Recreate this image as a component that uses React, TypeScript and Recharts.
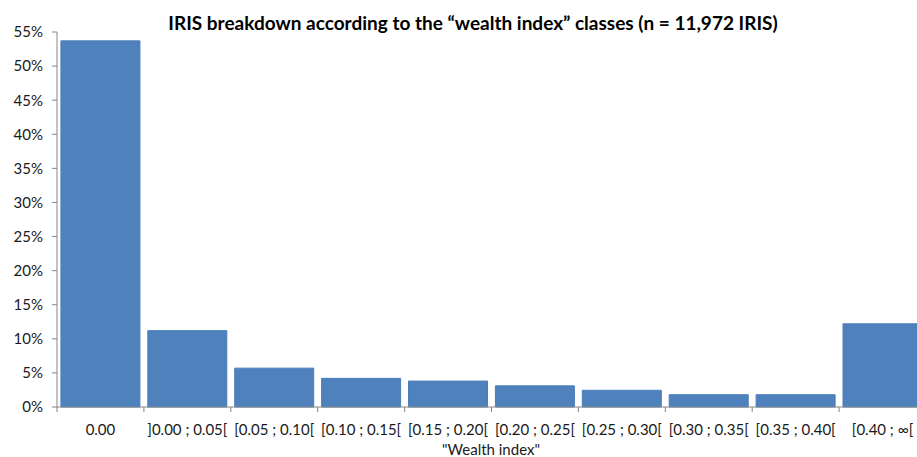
import { BarChart, Bar, XAxis, YAxis } from "recharts";

const categories = [
  "0.00",
  "]0.00 ; 0.05[",
  "[0.05 ; 0.10[",
  "[0.10 ; 0.15[",
  "[0.15 ; 0.20[",
  "[0.20 ; 0.25[",
  "[0.25 ; 0.30[",
  "[0.30 ; 0.35[",
  "[0.35 ; 0.40[",
  "[0.40 ; ∞[",
];
const shares = [53.7, 11.2, 5.7, 4.2, 3.8, 3.1, 2.45, 1.8, 1.8, 12.2];
const yTicks = [0, 5, 10, 15, 20, 25, 30, 35, 40, 45, 50, 55];

const title = "IRIS breakdown according to the \u201cwealth index\u201d classes (n = 11,972 IRIS)";
const xTitle = "\"Wealth index\"";

const chartWidth = 940;
const chartHeight = 457;
const margin = { top: 32, right: 14, left: 0, bottom: 20 };
const yAxisWidth = 57;
const plotWidth = chartWidth - margin.left - margin.right - yAxisWidth;
const halfBand = plotWidth / categories.length / 2;
const plotBottom = chartHeight - margin.bottom - 30;

const axisColor = "#868686";
const textColor = "#1a1a1a";
const font = "Lato, 'Open Sans', sans-serif";

const data = categories.map((c, i) => ({ name: c, value: shares[i] }));

function CategoryTick(props: any) {
  const { x, payload } = props;
  return (
    <g>
      <line
        x1={x - halfBand}
        x2={x - halfBand}
        y1={plotBottom}
        y2={plotBottom + 5}
        stroke={axisColor}
      />
      <text
        x={x}
        y={plotBottom + 28}
        textAnchor="middle"
        fill={textColor}
        fontSize={15}
        fontFamily={font}
      >
        {payload.value}
      </text>
    </g>
  );
}

export default function App() {
  return (
    <div
      style={{
        position: "fixed",
        left: 0,
        top: 0,
        width: 917,
        height: 457,
        overflow: "hidden",
        background: "#fff",
      }}
    >
      <BarChart
        width={chartWidth}
        height={chartHeight}
        data={data}
        margin={margin}
        barCategoryGap="4.5%"
      >
        <XAxis
          dataKey="name"
          stroke={axisColor}
          tickLine={false}
          interval={0}
          tick={<CategoryTick />}
          height={30}
        />
        <YAxis
          width={yAxisWidth}
          domain={[0, 55]}
          ticks={yTicks}
          interval={0}
          stroke={axisColor}
          tickSize={5}
          tickMargin={9}
          tickFormatter={(v: number) => `${v}%`}
          tick={{ fill: textColor, fontSize: 15, fontFamily: font }}
        />
        <Bar
          dataKey="value"
          fill="#4f81bd"
          stroke="#4a7ebb"
          isAnimationActive={false}
        />
      </BarChart>
      <svg
        width={917}
        height={457}
        style={{ position: "absolute", left: 0, top: 0, pointerEvents: "none" }}
      >
        <text
          x={473}
          y={30}
          textAnchor="middle"
          fontSize={19}
          fontWeight="bold"
          fontFamily={font}
          fill="#000"
        >
          {title}
        </text>
        <text
          x={491}
          y={455}
          textAnchor="middle"
          fontSize={15}
          fontFamily={font}
          fill={textColor}
        >
          {xTitle}
        </text>
      </svg>
    </div>
  );
}
